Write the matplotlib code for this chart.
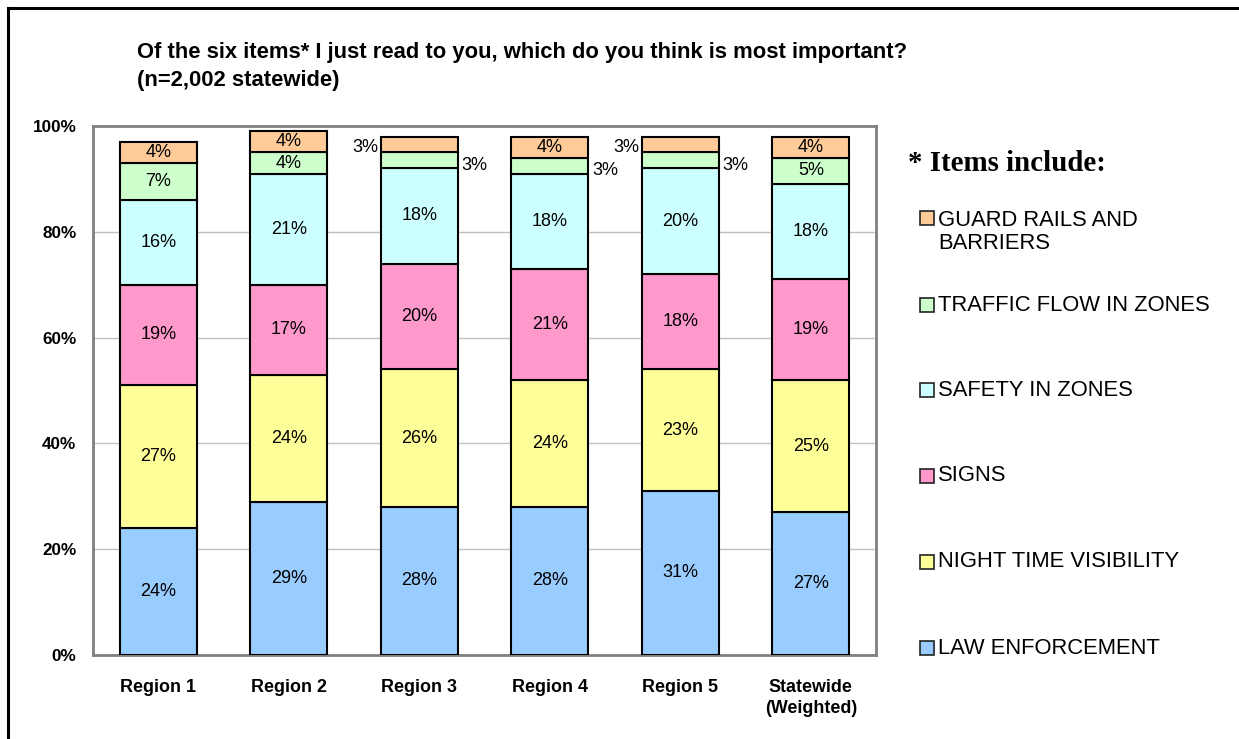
import numpy as np
import matplotlib
matplotlib.use("Agg")
import matplotlib.pyplot as plt
from matplotlib.patches import Rectangle
from matplotlib.lines import Line2D

plt.rcParams["font.family"] = ["Liberation Sans", "DejaVu Sans"]

regions = ["Region 1", "Region 2", "Region 3", "Region 4", "Region 5", "Statewide\n(Weighted)"]

# percent choosing each item, bottom of the stack first
law_enforcement = [24, 29, 28, 28, 31, 27]
night_visibility = [27, 24, 26, 24, 23, 25]
signs = [19, 17, 20, 21, 18, 19]
safety_in_zones = [16, 21, 18, 18, 20, 18]
traffic_flow = [7, 4, 3, 3, 3, 5]
guard_rails = [4, 4, 3, 4, 3, 4]

series_names = ["LAW ENFORCEMENT", "NIGHT TIME VISIBILITY", "SIGNS",
                "SAFETY IN ZONES", "TRAFFIC FLOW IN ZONES", "GUARD RAILS AND\nBARRIERS"]
series_values = [law_enforcement, night_visibility, signs,
                 safety_in_zones, traffic_flow, guard_rails]
colors = ["#99CCFF", "#FFFF99", "#FF99CC", "#CCFFFF", "#CCFFCC", "#FFCC99"]

# small segments whose labels sit beside the bar: (series index, bar index) -> side
outside_labels = {(5, 2): "left", (4, 2): "right",
                  (4, 3): "right",
                  (5, 4): "left", (4, 4): "right"}

fig = plt.figure(figsize=(12.39, 7.39), dpi=100)
ax = fig.add_axes([0.0751, 0.1137, 0.632, 0.7158])

x = np.arange(len(regions))
width = 0.59
bottom = np.zeros(len(regions))
for s, (name, vals, col) in enumerate(zip(series_names, series_values, colors)):
    vals = np.array(vals, dtype=float)
    ax.bar(x, vals, width, bottom=bottom, color=col, edgecolor="black",
           linewidth=1.5, zorder=3)
    for i, v in enumerate(vals):
        yc = bottom[i] + v / 2
        side = outside_labels.get((s, i))
        if side == "left":
            ax.text(x[i] - width / 2 - 0.02, yc - 0.6, f"{v:.0f}%", ha="right",
                    va="center", fontsize=13, zorder=4)
        elif side == "right":
            ax.text(x[i] + width / 2 + 0.03, yc - 1.0, f"{v:.0f}%", ha="left",
                    va="center", fontsize=13, zorder=4)
        else:
            ax.text(x[i], yc, f"{v:.0f}%", ha="center", va="center",
                    fontsize=13, zorder=4)
    bottom += vals

ax.set_xlim(-0.5, len(regions) - 0.5)
ax.set_ylim(0, 100)
ax.set_yticks(np.arange(0, 101, 20))
ax.set_yticklabels([f"{t}%" for t in range(0, 101, 20)], fontsize=12.3, fontweight="bold")
ax.set_xticks(x)
ax.set_xticklabels(regions, fontsize=12.9, fontweight="bold", linespacing=1.35)
ax.tick_params(axis="y", length=0, pad=12)
ax.tick_params(axis="x", length=0, pad=17)
ax.yaxis.grid(True, color="#C0C0C0", linewidth=1, zorder=0)
for sp in ax.spines.values():
    sp.set_color("#808080")
    sp.set_linewidth(2)

fig.text(0.1106, 0.921, "Of the six items* I just read to you, which do you think is most important?",
         fontsize=15.8, fontweight="bold", va="baseline")
fig.text(0.1106, 0.883, "(n=2,002 statewide)", fontsize=15.8, fontweight="bold", va="baseline")

# key on the right, top entry first
fig.text(0.733, 0.779, "* Items include:", fontsize=20.8, fontweight="bold",
         family="Liberation Serif", va="center")
key_y = [0.686, 0.587, 0.472, 0.356, 0.240, 0.123]
key_order = list(range(len(series_names)))[::-1]
for yy, s in zip(key_y, key_order):
    box_y = yy if s != 5 else 0.705
    fig.patches.append(Rectangle((0.7425, box_y - 0.0095), 0.0113, 0.019,
                                 transform=fig.transFigure, facecolor=colors[s],
                                 edgecolor="#222222", linewidth=1.2))
    fig.text(0.757, yy, series_names[s], fontsize=15.8, va="center", linespacing=1.1)

# frame lines along the top and left edges
fig.add_artist(Line2D([0.0065, 1.0], [0.989, 0.989], transform=fig.transFigure,
                      color="black", linewidth=2.2))
fig.add_artist(Line2D([0.0065, 0.0065], [0.0, 0.989], transform=fig.transFigure,
                      color="black", linewidth=2.2))

fig.savefig("out.png", dpi=100)
